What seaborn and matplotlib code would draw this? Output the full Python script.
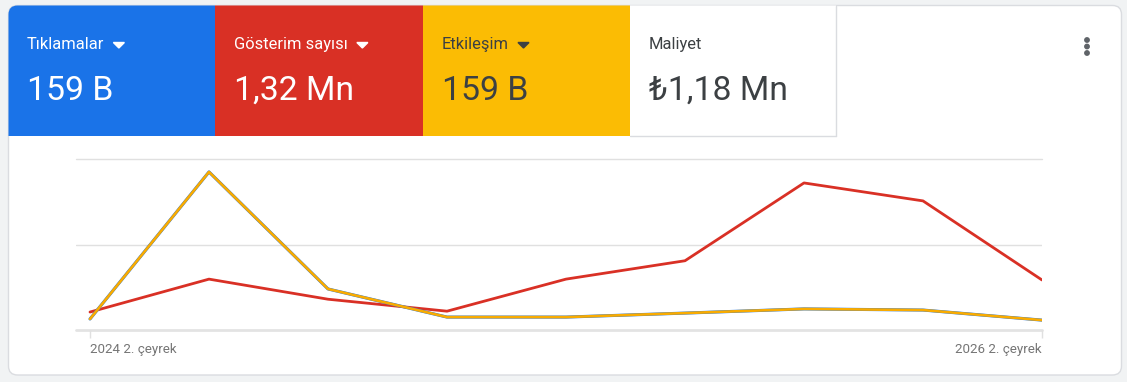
import matplotlib
matplotlib.use("Agg")
import matplotlib.pyplot as plt
from matplotlib.patches import FancyBboxPatch, Rectangle, Polygon, Circle
import seaborn as sns
import pandas as pd

# quarterly data (bin = thousands)
quarters = ["2024 2. çeyrek", "2024 3. çeyrek", "2024 4. çeyrek", "2025 1. çeyrek",
            "2025 2. çeyrek", "2025 3. çeyrek", "2025 4. çeyrek", "2026 1. çeyrek",
            "2026 2. çeyrek"]
tiklamalar = [5.8, 83.2, 21.6, 6.8, 6.8, 8.9, 11.1, 10.5, 5.2]
etkilesim = [5.8, 83.2, 21.6, 6.8, 6.8, 8.9, 11.1, 10.5, 5.2]
gosterim = [42, 119, 72, 44, 119, 162, 344, 302, 117]

tile_titles = ["Tıklamalar", "Gösterim sayısı", "Etkileşim", "Maliyet"]
tile_values = ["159 B", "1,32 Mn", "159 B", "₺1,18 Mn"]
tile_colors = ["#1a73e8", "#d93025", "#fbbc04", "#ffffff"]
text_colors = ["#ffffff", "#ffffff", "#3c4043", "#3c4043"]
has_arrow = [True, True, True, False]

df = pd.DataFrame({"q": range(len(quarters)), "tik": tiklamalar,
                   "etk": etkilesim, "gos": gosterim})

sns.set_theme(style="white")
plt.rcParams['font.family'] = ['Roboto', 'DejaVu Sans']

W, H = 1127, 382
fig = plt.figure(figsize=(W / 100, H / 100), dpi=100)
fig.patch.set_facecolor("#f1f3f4")

bg = fig.add_axes([0, 0, 1, 1])
bg.set_xlim(0, W)
bg.set_ylim(H, 0)
bg.axis("off")

card = FancyBboxPatch((8.5, 5.5), 1113, 369.5, boxstyle="round,pad=0,rounding_size=9",
                      fc="white", ec="#dadce0", lw=1, zorder=1)
bg.add_patch(card)

edges = [8, 215, 423, 630, 836]
for i in range(4):
    r = Rectangle((edges[i], 5), edges[i + 1] - edges[i], 131, fc=tile_colors[i],
                  ec="none", zorder=2)
    bg.add_patch(r)
    r.set_clip_path(card)
bg.plot([836, 836], [6, 136], color="#dadce0", lw=1, zorder=3)
bg.plot([630, 836], [136, 136], color="#dadce0", lw=1, zorder=3)

titles = []
for i in range(4):
    x = edges[i] + 19
    t = bg.text(x, 49, tile_titles[i], color=text_colors[i], fontsize=11.9,
                va="baseline", ha="left", zorder=4)
    titles.append(t)
    bg.text(x, 100, tile_values[i], color=text_colors[i], fontsize=24.3,
            va="baseline", ha="left", zorder=4)

for d in [40, 46.5, 53]:
    bg.add_patch(Circle((1087, d), 2.2, color="#5f6368", zorder=4))

# chart
ax = fig.add_axes([76 / W, (H - 330) / H, (1042 - 76) / W, (330 - 159) / H])
ax.patch.set_alpha(0)
ax.axhline(200, color="#e0e0e0", lw=1, zorder=0)
ax.axhline(400, color="#e0e0e0", lw=1, zorder=0, clip_on=False)
ax.axhline(0, color="#e3e3e3", lw=2, zorder=0, clip_on=False)
sns.lineplot(data=df, x="q", y="gos", ax=ax, color="#d93025", lw=2)
ax.set_ylim(0, 400)
ax.set_xlim(-14 / 119, 8)
ax2 = ax.twinx()
sns.lineplot(data=df, x="q", y="tik", ax=ax2, color="#1a73e8", lw=2.2)
sns.lineplot(data=df, x="q", y="etk", ax=ax2, color="#f9ab00", lw=1.9)
ax2.set_ylim(0, 90)
for a in (ax, ax2):
    for s in a.spines.values():
        s.set_visible(False)
    a.set_yticks([])
    a.set_xlabel("")
    a.set_ylabel("")
ax2.tick_params(axis="x", length=0)
ax.set_xticks([0, 8])
ax.set_xticklabels([quarters[0], quarters[-1]])
ax.tick_params(axis="x", length=6, width=1, color="#e0e0e0", labelsize=9.6,
               labelcolor="#757575", pad=3, bottom=True)
labs = ax.get_xticklabels()
labs[0].set_ha("left")
labs[-1].set_ha("right")

# dropdown arrows placed after the titles
fig.canvas.draw()
for i, t in enumerate(titles):
    if has_arrow[i]:
        bb = t.get_window_extent()
        x0 = bb.x1 + 9
        bg.add_patch(Polygon([[x0, 42.5], [x0 + 11, 42.5], [x0 + 5.5, 48]],
                             closed=True, color=text_colors[i], zorder=4))

fig.savefig("out.png", dpi=100, facecolor=fig.get_facecolor())
